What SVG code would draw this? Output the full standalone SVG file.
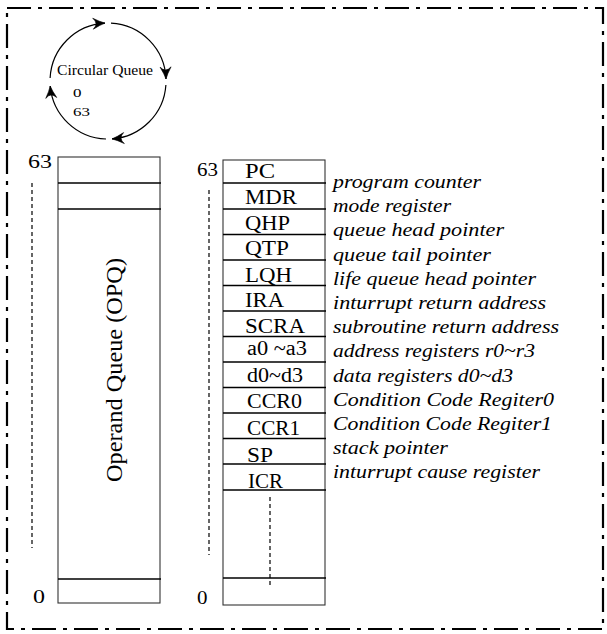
<svg xmlns="http://www.w3.org/2000/svg" width="607" height="634" viewBox="0 0 607 634">
<style>
.frame{fill:none;stroke:#000;stroke-width:2.2;stroke-dasharray:24 7 4 7}
.box{fill:#fff;stroke:#333;stroke-width:1.1}
.row{stroke:#000;stroke-width:1.6}
.dot{stroke:#000;stroke-width:1.2;stroke-dasharray:4 3;fill:none}
.arc{fill:none;stroke:#000;stroke-width:1.2}
.t{font-family:"Liberation Serif","Times New Roman",serif;fill:#000}
.reg{font-size:20.5px}
.desc{font-size:19px;font-style:italic}
</style>
<defs>
<marker id="ah" markerWidth="16" markerHeight="14" refX="13" refY="7" orient="auto" markerUnits="userSpaceOnUse">
<path d="M1,1.5 Q8,5.5 13,7 Q8,8.5 1,12.5 Q7,7 1,1.5 Z" fill="#000" stroke="#000" stroke-width="0.6"/>
</marker>
</defs>
<rect class="frame" x="7" y="8" width="596" height="621"/>
<g id="circular-queue">
<g id="connectors">
<path class="arc" d="M50.1,78 A58,58 0 0 1 105,23.1" marker-end="url(#ah)"/>
<path class="arc" d="M111,23.1 A58,58 0 0 1 166,79" marker-end="url(#ah)"/>
<path class="arc" d="M165.9,85 A58,58 0 0 1 112,138.9" marker-end="url(#ah)"/>
<path class="arc" d="M106,139 A58,58 0 0 1 50.2,86" marker-end="url(#ah)"/>
</g>
<text class="t" x="57" y="75" font-size="14.5" textLength="96" lengthAdjust="spacingAndGlyphs">Circular Queue</text>
<text class="t" x="73" y="97" font-size="13.5" textLength="8.5" lengthAdjust="spacingAndGlyphs">0</text>
<text class="t" x="73" y="116" font-size="13.5" textLength="17" lengthAdjust="spacingAndGlyphs">63</text>
</g>
<g id="opq">
<rect class="box" x="58" y="157" width="102" height="446"/>
<line class="row" x1="58" y1="183" x2="161" y2="183"/>
<line class="row" x1="58" y1="209" x2="161" y2="209"/>
<line class="row" x1="58" y1="579" x2="161" y2="579"/>
<line class="dot" x1="32" y1="183" x2="32" y2="548"/>
<text class="t" x="28" y="168" font-size="19.5" textLength="24" lengthAdjust="spacingAndGlyphs">63</text>
<text class="t" x="33" y="603" font-size="19.5" textLength="12" lengthAdjust="spacingAndGlyphs">0</text>
<text class="t" font-size="23" transform="translate(122,482) rotate(-90)" textLength="224" lengthAdjust="spacingAndGlyphs">Operand Queue (OPQ)</text>
</g>
<g id="registers">
<rect class="box" x="223" y="160" width="102" height="445"/>
<line class="row" x1="223" y1="183" x2="326" y2="183"/>
<line class="row" x1="223" y1="209" x2="326" y2="209"/>
<line class="row" x1="223" y1="234.5" x2="326" y2="234.5"/>
<line class="row" x1="223" y1="260" x2="326" y2="260"/>
<line class="row" x1="223" y1="285.5" x2="326" y2="285.5"/>
<line class="row" x1="223" y1="311" x2="326" y2="311"/>
<line class="row" x1="223" y1="336.5" x2="326" y2="336.5"/>
<line class="row" x1="223" y1="362" x2="326" y2="362"/>
<line class="row" x1="223" y1="387.5" x2="326" y2="387.5"/>
<line class="row" x1="223" y1="413" x2="326" y2="413"/>
<line class="row" x1="223" y1="438.5" x2="326" y2="438.5"/>
<line class="row" x1="223" y1="464" x2="326" y2="464"/>
<line class="row" x1="223" y1="490" x2="326" y2="490"/>
<line class="row" x1="223" y1="578" x2="326" y2="578"/>
<line class="dot" x1="209" y1="190" x2="209" y2="555"/>
<line class="dot" x1="270" y1="497" x2="270" y2="587"/>
<text class="t" x="197" y="176" font-size="19.5" textLength="21" lengthAdjust="spacingAndGlyphs">63</text>
<text class="t" x="197" y="604" font-size="19.5" textLength="10.5" lengthAdjust="spacingAndGlyphs">0</text>
<text class="t reg" x="245" y="178.3" textLength="30" lengthAdjust="spacingAndGlyphs">PC</text>
<text class="t reg" x="245" y="204.3" textLength="52" lengthAdjust="spacingAndGlyphs">MDR</text>
<text class="t reg" x="245" y="230" textLength="45" lengthAdjust="spacingAndGlyphs">QHP</text>
<text class="t reg" x="245" y="255" textLength="44" lengthAdjust="spacingAndGlyphs">QTP</text>
<text class="t reg" x="245" y="281.7" textLength="47" lengthAdjust="spacingAndGlyphs">LQH</text>
<text class="t reg" x="245" y="306.7" textLength="39" lengthAdjust="spacingAndGlyphs">IRA</text>
<text class="t reg" x="245" y="332.7" textLength="60" lengthAdjust="spacingAndGlyphs">SCRA</text>
<text class="t reg" x="247" y="355" textLength="60" lengthAdjust="spacingAndGlyphs">a0 ~a3</text>
<text class="t reg" x="247" y="381.7" textLength="56" lengthAdjust="spacingAndGlyphs">d0~d3</text>
<text class="t reg" x="247" y="408.3" textLength="55" lengthAdjust="spacingAndGlyphs">CCR0</text>
<text class="t reg" x="247" y="435" textLength="53" lengthAdjust="spacingAndGlyphs">CCR1</text>
<text class="t reg" x="247" y="461.7" textLength="26" lengthAdjust="spacingAndGlyphs">SP</text>
<text class="t reg" x="248" y="488.3" textLength="35" lengthAdjust="spacingAndGlyphs">ICR</text>
</g>
<g id="descriptions">
<text class="t desc" x="333" y="188" textLength="148" lengthAdjust="spacingAndGlyphs">program counter</text>
<text class="t desc" x="333" y="212.2" textLength="118" lengthAdjust="spacingAndGlyphs">mode register</text>
<text class="t desc" x="333" y="236.4" textLength="171" lengthAdjust="spacingAndGlyphs">queue head pointer</text>
<text class="t desc" x="333" y="260.6" textLength="158" lengthAdjust="spacingAndGlyphs">queue tail pointer</text>
<text class="t desc" x="333" y="284.8" textLength="203" lengthAdjust="spacingAndGlyphs">life queue head pointer</text>
<text class="t desc" x="333" y="309" textLength="213" lengthAdjust="spacingAndGlyphs">inturrupt return address</text>
<text class="t desc" x="333" y="333.2" textLength="226" lengthAdjust="spacingAndGlyphs">subroutine return address</text>
<text class="t desc" x="333" y="357.4" textLength="202" lengthAdjust="spacingAndGlyphs">address registers r0~r3</text>
<text class="t desc" x="333" y="381.6" textLength="180" lengthAdjust="spacingAndGlyphs">data registers d0~d3</text>
<text class="t desc" x="333" y="405.8" textLength="221" lengthAdjust="spacingAndGlyphs">Condition Code Regiter0</text>
<text class="t desc" x="333" y="430" textLength="219" lengthAdjust="spacingAndGlyphs">Condition Code Regiter1</text>
<text class="t desc" x="333" y="454.2" textLength="115" lengthAdjust="spacingAndGlyphs">stack pointer</text>
<text class="t desc" x="333" y="478.4" textLength="207" lengthAdjust="spacingAndGlyphs">inturrupt cause register</text>
</g>
</svg>
